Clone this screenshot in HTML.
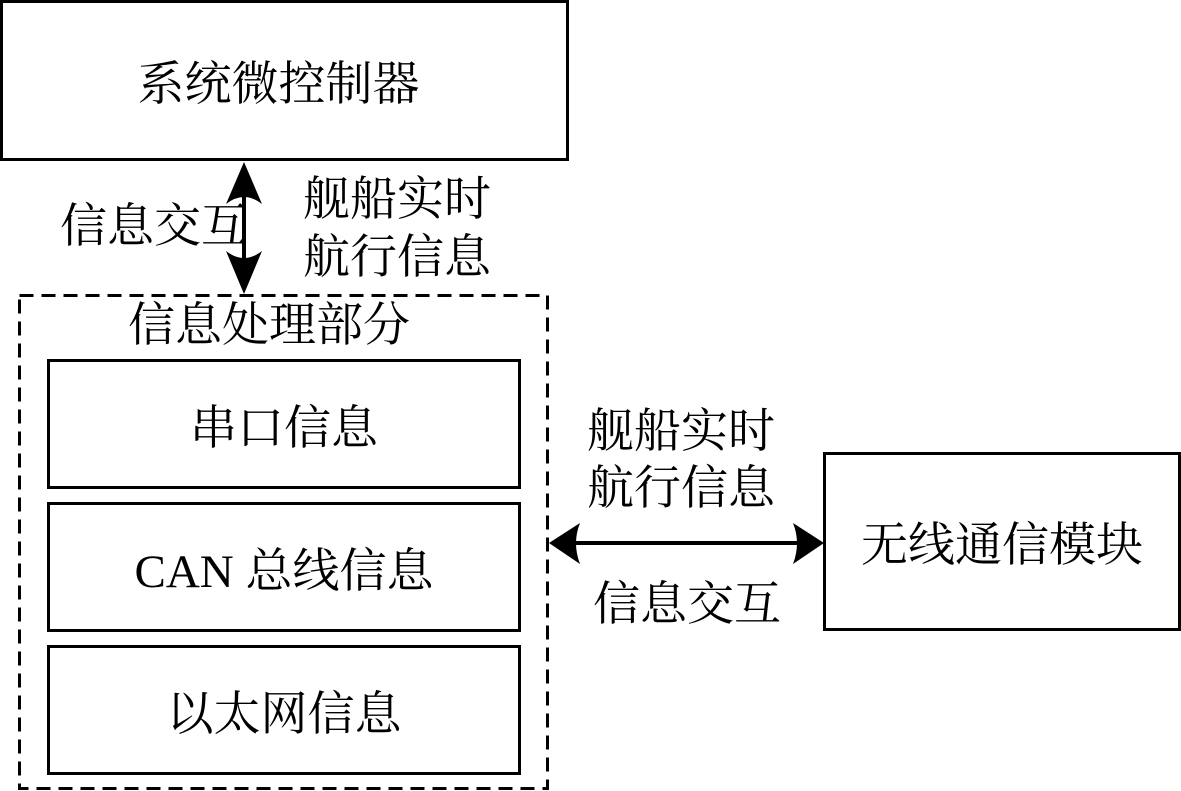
<!DOCTYPE html>
<html><head><meta charset="utf-8"><style>
body{margin:0;width:1181px;height:791px;background:#fff;overflow:hidden;position:relative;font-family:"Liberation Serif","Noto Serif CJK SC",serif;color:#000}
.b{position:absolute;border:3px solid #000;box-sizing:border-box;display:flex;align-items:center;justify-content:center;font-size:47px}
.t{position:absolute;font-size:47px;line-height:58px;white-space:nowrap}
</style></head><body>
<div class="b" style="left:0;top:0;width:569px;height:161px;padding-right:12px">系统微控制器</div>
<div class="b" style="left:47px;top:359px;width:474px;height:130px">串口信息</div>
<div class="b" style="left:47px;top:502px;width:474px;height:130px">CAN 总线信息</div>
<div class="b" style="left:47px;top:645px;width:474px;height:130px">以太网信息</div>
<div class="b" style="left:823px;top:452px;width:358px;height:179px">无线通信模块</div>
<div class="t" style="left:60px;top:198px">信息交互</div>
<div class="t" style="left:303px;top:171px">舰船实时</div>
<div class="t" style="left:303px;top:229px">航行信息</div>
<div class="t" style="left:128px;top:297px">信息处理部分</div>
<div class="t" style="left:587px;top:403px">舰船实时</div>
<div class="t" style="left:587px;top:460px">航行信息</div>
<div class="t" style="left:593px;top:576px">信息交互</div>
<svg width="1181" height="791" style="position:absolute;left:0;top:0">
<rect x="19.5" y="295.5" width="528" height="493" fill="none" stroke="#000" stroke-width="3" stroke-dasharray="14 8"/>
<line x1="244" y1="190" x2="244" y2="265" stroke="#000" stroke-width="4"/>
<path d="M244 162 L226 204 Q244 190 262 204 Z" fill="#000"/>
<path d="M244 294 L226 251 Q244 265 262 251 Z" fill="#000"/>
<line x1="575" y1="543" x2="798" y2="543" stroke="#000" stroke-width="4"/>
<path d="M549 543 L580 523 Q572 543 580 564 Z" fill="#000"/>
<path d="M824 543 L793 523 Q801 543 793 564 Z" fill="#000"/>
</svg>
</body></html>
